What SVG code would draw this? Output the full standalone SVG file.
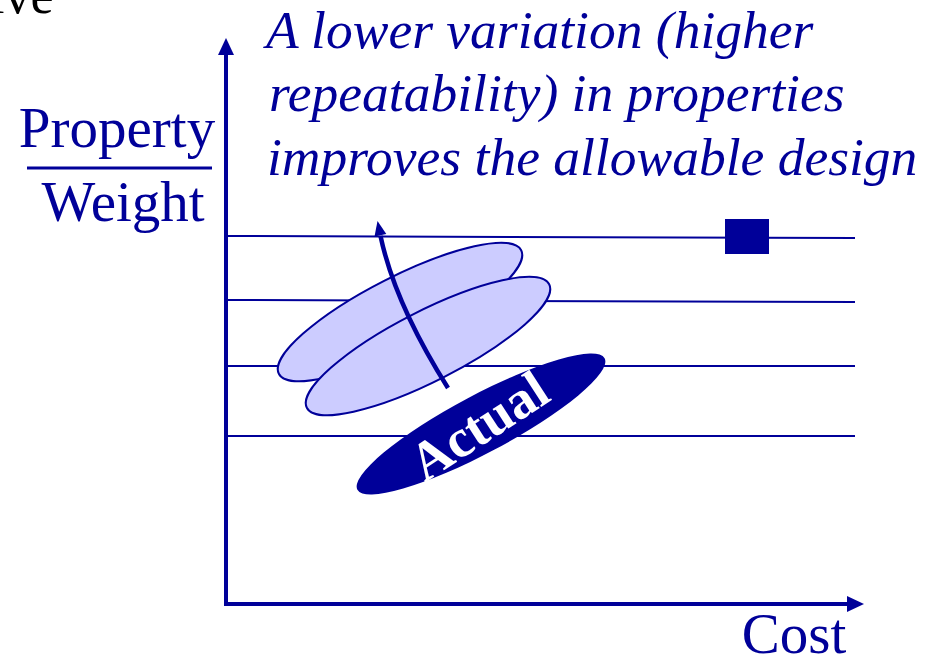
<svg xmlns="http://www.w3.org/2000/svg" width="938" height="657" viewBox="0 0 938 657">
<style>
.blue{fill:#000099}
.t{font-family:"Liberation Serif","Times New Roman",serif;fill:#000099}
.it{font-style:italic;font-size:53.5px}
.up{font-size:57px}
.grid{stroke:#000099;stroke-width:2;fill:none}
.light{fill:#ccccff;stroke:#000099;stroke-width:2}
</style>
<rect width="938" height="657" fill="#ffffff"/>
<text x="-10" y="13" font-family="Liberation Serif,serif" font-size="52" fill="#000000">ive</text>
<g id="title">
<text class="t it" x="266" y="48">A lower variation (higher</text>
<text class="t it" x="269" y="111">repeatability) in properties</text>
<text class="t it" x="267" y="175">improves the allowable design</text>
</g>
<g id="ylabel">
<text class="t up" x="117" y="147" text-anchor="middle">Property</text>
<line x1="27" y1="168" x2="212" y2="168" stroke="#000099" stroke-width="3"/>
<text class="t up" x="123" y="221" text-anchor="middle">Weight</text>
</g>
<g id="xlabel">
<text class="t up" x="794" y="653" text-anchor="middle">Cost</text>
</g>
<g id="gridlines">
<line class="grid" x1="228" y1="236" x2="855" y2="238"/>
<line class="grid" x1="228" y1="300" x2="855" y2="302"/>
<line class="grid" x1="228" y1="366" x2="855" y2="366"/>
<line class="grid" x1="228" y1="436" x2="855" y2="436"/>
</g>
<g id="axes">
<line x1="226" y1="52" x2="226" y2="606" stroke="#000099" stroke-width="4"/>
<polygon class="blue" points="226,38 234,55 218,55"/>
<line x1="224" y1="604" x2="850" y2="604" stroke="#000099" stroke-width="4"/>
<polygon class="blue" points="864,604 847,596 847,612"/>
</g>
<g id="square">
<rect class="blue" x="725" y="219" width="44" height="35"/>
</g>
<g id="ellipse-back">
<ellipse class="light" cx="400" cy="312" rx="136" ry="35" transform="rotate(-27 400 312)"/>
</g>
<g id="ellipse-front">
<ellipse class="light" cx="428" cy="346" rx="136" ry="35" transform="rotate(-27 428 346)"/>
</g>
<g id="actual">
<ellipse class="blue" cx="481" cy="424" rx="140" ry="29" transform="rotate(-28 481 424)"/>
<text x="479" y="444" font-family="Liberation Serif,serif" font-weight="bold" font-size="54" fill="#ffffff" text-anchor="middle" transform="rotate(-33 479 426)">Actual</text>
</g>
<g id="connectors">
<path d="M448,388 Q395,304 380.5,236" fill="none" stroke="#000099" stroke-width="4.5"/>
<polygon class="blue" points="377.5,221 386.3,234 374.5,236.5"/>
</g>
</svg>
